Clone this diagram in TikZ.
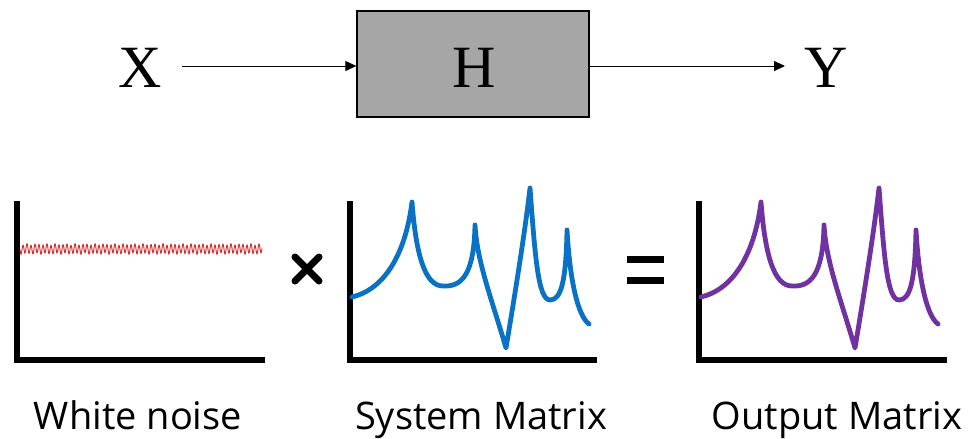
\documentclass[tikz,border=0pt]{standalone}
\usepackage{fontspec}
\setmainfont{Liberation Serif}
\newfontfamily\labelfont{Open Sans}
\usetikzlibrary{arrows.meta}
\definecolor{noisered}{HTML}{D22B2B}
\definecolor{sysblue}{HTML}{0A72C4}
\definecolor{outpurple}{HTML}{7032A0}
\definecolor{boxgray}{HTML}{A6A6A6}
\newcommand{\spectrumcurve}[1]{%
  \draw[curve,#1] (352,297) .. controls (382,290) and (405,258) .. (412,202)
    .. controls (416,255) and (425,286) .. (443,286)
    .. controls (461,287) and (474,276) .. (475,225)
    .. controls (477,262) and (492,300) .. (506,348)
    .. controls (514,300) and (525,232) .. (530,188)
    .. controls (535,255) and (538,300) .. (550,300)
    .. controls (561,300) and (566,282) .. (567,230)
    .. controls (570,282) and (578,316) .. (589,324);}
\tikzset{
  sym/.style={font=\fontsize{60}{60}\selectfont, inner sep=0pt, anchor=base},
  hbox/.style={draw=black, line width=1.3pt, fill=boxgray, minimum width=232pt, minimum height=106pt, inner sep=0pt, font=\fontsize{60}{60}\selectfont},
  conn/.style={line width=0.9pt, -{Triangle[length=11pt,width=10pt]}},
  axis/.style={line width=5.5pt, line join=miter},
  curve/.style={line width=4.8pt, line join=round, line cap=round},
  caption/.style={font=\labelfont\fontsize{38}{38}\selectfont, inner sep=0pt, anchor=base},
  opsign/.style={line width=7pt}
}
\begin{document}
\begin{tikzpicture}[x=1pt,y=-1pt]
\useasboundingbox (0,0) rectangle (975,439);
% top block diagram
\node[sym] (X) at (140,87) {X};
\node[hbox] (H) at (473,64) {};
\node[sym] (Htext) at (474,87) {H};
\node[sym] (Y) at (826,87) {Y};
\coordinate (in) at (182,66);
\coordinate (out) at (785,66);
\draw[conn] (in) -- (in -| H.west);
\draw[conn] (H.east |- out) -- (out);
% axes
\draw[axis] (17,201) -- (17,360) -- (265,360);
\draw[axis] (350,201) -- (350,360) -- (597,360);
\draw[axis] (699,201) -- (699,360) -- (947,360);
% white noise
\draw[noisered, line width=0.9pt] plot[domain=20:262, samples=700] (\x,{249+4.5*sin(mod(\x,4)*90)+0.8*sin(mod(\x,9.73)*37)});
% spectra
\spectrumcurve{sysblue}
\begin{scope}[xshift=349pt]
\spectrumcurve{outpurple}
\end{scope}
% operators
\draw[opsign, line cap=round] (295,257) -- (319,281);
\draw[opsign, line cap=round] (295,281) -- (319,257);
\draw[opsign] (627,259.5) -- (664,259.5);
\draw[opsign] (627,280) -- (664,280);
% captions
\node[caption] (c1) at (138,429) {White noise};
\node[caption] (c2) at (481,429) {System Matrix};
\node[caption] (c3) at (837,429) {Output Matrix};
\end{tikzpicture}
\end{document}
